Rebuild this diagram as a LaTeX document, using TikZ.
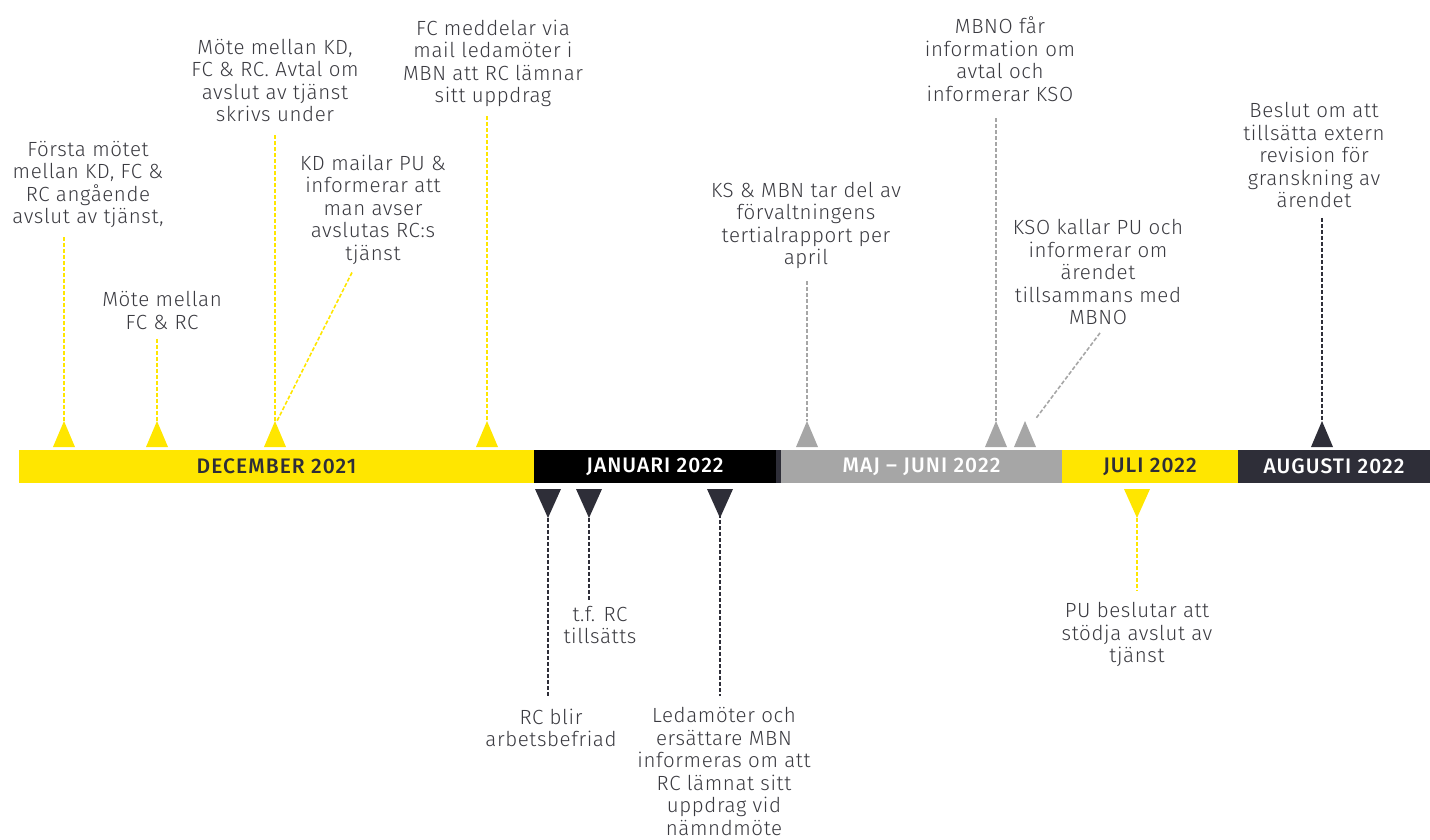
\documentclass[tikz,border=0pt]{standalone}
\usepackage{fontspec}
\IfFontExistsTF{Fira Sans Light}
  {\setmainfont{Fira Sans Light}[LetterSpace=3]}
  {\setmainfont{Fira Sans}[LetterSpace=3]}
\IfFontExistsTF{Fira Sans Medium}
  {\newfontfamily\barfont{Fira Sans Medium}[LetterSpace=5]}
  {\newfontfamily\barfont{Fira Sans}[LetterSpace=5]}
\definecolor{eyy}{HTML}{FFE600}
\definecolor{eyd}{HTML}{2E2E38}
\definecolor{eyg}{HTML}{A6A6A6}
\definecolor{eyblk}{HTML}{000000}
\definecolor{txt}{HTML}{3A3A40}
\newcommand\evup[3]{\fill[#3] (#1-11,447) -- (#1+11,447) -- (#1,421) -- cycle; \coordinate (#2) at (#1,421);}
\newcommand\evdn[3]{\fill[#3] (#1-13,489) -- (#1+13,489) -- (#1,518) -- cycle; \coordinate (#2) at (#1,518);}
\begin{document}
\begin{tikzpicture}[x=1pt,y=-1pt,
  lbl/.style={align=center,font=\fontsize{20.5}{22.5}\selectfont,text=txt,inner sep=0pt},
  seg/.style={minimum height=33pt,inner sep=0pt,font=\barfont\fontsize{21}{22}\selectfont},
  dl/.style={line width=1.6pt,dash pattern=on 4pt off 2pt},
  ydl/.style={dl,draw=eyy},
  gdl/.style={dl,draw=eyg},
  ddl/.style={dl,draw=eyd}]
\useasboundingbox (0,0) rectangle (1430,840);
% bar
\node[seg,fill=eyy,text=eyd,minimum width=515pt] (dec) at (276.5,466.5) {DECEMBER 2021};
\node[seg,fill=eyblk,text=white,minimum width=242pt] (jan) at (655,466.5) {JANUARI 2022};
\node[seg,fill=eyd,minimum width=5pt] (strip) at (778.5,466.5) {};
\node[seg,fill=eyg,text=white,minimum width=281pt] (maj) at (921.5,466.5) {MAJ – JUNI 2022};
\node[seg,fill=eyy,text=eyd,minimum width=176pt] (jul) at (1150,466.5) {JULI 2022};
\node[seg,fill=eyd,text=white,minimum width=192pt] (aug) at (1334,466.5) {AUGUSTI 2022};
% triangles
\evup{64}{p1}{eyy}
\evup{157}{p2}{eyy}
\evup{275}{p3}{eyy}
\evup{487}{p5}{eyy}
\evup{807}{p6}{eyg}
\evup{996}{p7}{eyg}
\evup{1025}{p8}{eyg}
\evup{1322}{p9}{eyd}
\evdn{548}{p10}{eyd}
\evdn{589}{p11}{eyd}
\evdn{720}{p12}{eyd}
\evdn{1137}{p13}{eyy}
% labels
\node[lbl] (t1) at (88,184.5) {Första mötet\\mellan KD, FC \&\\RC angående\\avslut av tjänst,};
\node[lbl] (t2) at (162,310.5) {Möte mellan\\FC \& RC};
\node[lbl] (t3) at (275,80.5) {Möte mellan KD,\\FC \& RC. Avtal om\\avslut av tjänst\\skrivs under};
\node[lbl] (t4) at (373,209.5) {KD mailar PU \&\\informerar att\\man avser\\avslutas RC:s\\tjänst};
\node[lbl] (t5) at (493,63.5) {FC meddelar via\\mail ledamöter i\\MBN att RC lämnar\\sitt uppdrag};
\node[lbl] (t6) at (806,225.5) {KS \& MBN tar del av\\förvaltningens\\tertialrapport per\\april};
\node[lbl] (t7) at (1000,59) {MBNO får\\information om\\avtal och\\informerar KSO};
\node[lbl] (t8) at (1098,272) {KSO kallar PU och\\informerar om\\ärendet\\tillsammans med\\MBNO};
\node[lbl] (t9) at (1314,155) {Beslut om att\\tillsätta extern\\revision för\\granskning av\\ärendet};
\node[lbl] (t10) at (551,728) {RC blir\\arbetsbefriad};
\node[lbl] (t11) at (600,625) {t.f. RC\\tillsätts};
\node[lbl] (t12) at (724,771.5) {Ledamöter och\\ersättare MBN\\informeras om att\\RC lämnat sitt\\uppdrag vid\\nämndmöte};
\node[lbl] (t13) at (1137,634.5) {PU beslutar att\\stödja avslut av\\tjänst};
% connectors
\draw[ydl,shorten <=9pt] (t1.south -| p1) -- (p1);
\draw[ydl,shorten <=9pt] (t2.south -| p2) -- (p2);
\draw[ydl,shorten <=13pt] (t3.south -| p3) -- (p3);
\draw[ydl] (t4.south) ++(-21,8) -- ([xshift=2pt]p3);
\draw[ydl,shorten <=9pt] (t5.south -| p5) -- (p5);
\draw[gdl,shorten <=12pt] (t6.south -| p6) -- (p6);
\draw[gdl,shorten <=17pt] (t7.south -| p7) -- (p7);
\draw[gdl,shorten >=3pt] (t8.south) ++(2,8) -- ([xshift=9pt]p8);
\draw[ddl,shorten <=10pt] (t9.south -| p9) -- (p9);
\draw[ddl,shorten >=13pt] (p10) -- (t10.north -| p10);
\draw[ddl,shorten >=6pt] (p11) -- (t11.north -| p11);
\draw[ddl,shorten >=11pt] (p12) ++(0,-22) -- (t12.north -| p12);
\draw[ydl,shorten >=12pt] (p13) -- (t13.north -| p13);
\end{tikzpicture}
\end{document}
